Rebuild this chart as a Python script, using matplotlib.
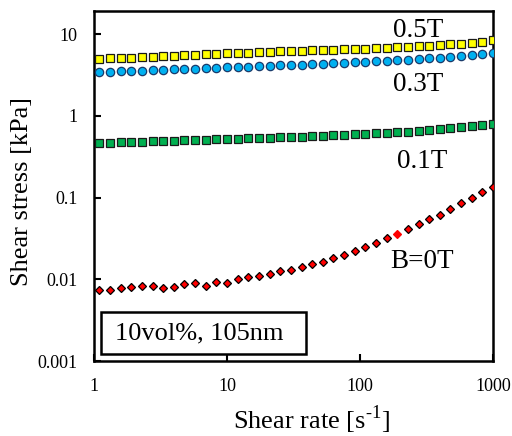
import matplotlib
matplotlib.use("Agg")
import matplotlib.pyplot as plt
from matplotlib.patches import Rectangle

plt.rcParams['font.family'] = ['Liberation Serif', 'DejaVu Serif']
plt.rcParams['mathtext.fontset'] = 'custom'
plt.rcParams['mathtext.rm'] = 'Liberation Serif'

# shear rate [1/s]
shear_rate = [1.096, 1.318, 1.585, 1.905, 2.291, 2.754, 3.311, 3.981, 4.786, 5.754,
              6.918, 8.318, 10.0, 12.02, 14.45, 17.38, 20.89, 25.12, 30.2, 36.31,
              43.65, 52.48, 63.1, 75.86, 91.2, 109.6, 131.8, 158.5, 190.5, 229.1,
              275.4, 331.1, 398.1, 478.6, 575.4, 691.8, 831.8, 1000.0]

# shear stress [kPa]
stress_05T = [5.03, 5.08, 5.12, 5.17, 5.22, 5.27, 5.37, 5.42, 5.52, 5.58,
              5.68, 5.74, 5.85, 5.90, 5.96, 6.07, 6.13, 6.18, 6.24, 6.30,
              6.36, 6.42, 6.48, 6.54, 6.60, 6.67, 6.73, 6.86, 6.92, 7.05,
              7.12, 7.26, 7.40, 7.54, 7.68, 7.90, 8.12, 8.44]
stress_03T = [3.45, 3.48, 3.52, 3.55, 3.58, 3.62, 3.65, 3.72, 3.75, 3.79,
              3.83, 3.90, 3.94, 3.97, 4.01, 4.05, 4.13, 4.17, 4.21, 4.25,
              4.33, 4.37, 4.41, 4.49, 4.53, 4.62, 4.66, 4.75, 4.80, 4.89,
              4.98, 5.08, 5.17, 5.27, 5.37, 5.52, 5.68, 5.84]
stress_01T = [0.470, 0.470, 0.474, 0.479, 0.483, 0.488, 0.493, 0.497, 0.502, 0.507,
              0.511, 0.516, 0.521, 0.526, 0.531, 0.536, 0.541, 0.546, 0.551, 0.557,
              0.567, 0.573, 0.578, 0.583, 0.594, 0.600, 0.612, 0.617, 0.629, 0.641,
              0.653, 0.665, 0.685, 0.704, 0.724, 0.745, 0.774, 0.803]
stress_0T = [0.0074, 0.0074, 0.0078, 0.0081, 0.0084, 0.0083, 0.0079, 0.0080, 0.0087, 0.0089,
             0.0084, 0.0094, 0.0091, 0.0102, 0.0106, 0.0110, 0.0116, 0.0125, 0.0130, 0.0140,
             0.0153, 0.0163, 0.0182, 0.0201, 0.0221, 0.0252, 0.0282, 0.0321, 0.0364, 0.0419,
             0.0473, 0.0545, 0.0622, 0.0722, 0.0849, 0.0995, 0.116, 0.135]
odd_point = 28  # one red marker drawn without outline

fig = plt.figure(figsize=(5.12, 4.36), dpi=100)
ax = fig.add_axes([0.1836, 0.172, 0.7794, 0.8028])

ms = 5.6
ax.plot(shear_rate, stress_05T, 's', ms=ms, mfc='#FFFF00', mec='#1a1a1a', mew=0.9, zorder=3)
ax.plot(shear_rate, stress_03T, 'o', ms=ms + 0.4, mfc='#00B0F0', mec='#1a3a6a', mew=0.9, zorder=3)
ax.plot(shear_rate, stress_01T, 's', ms=ms, mfc='#00B050', mec='#1a1a1a', mew=0.9, zorder=3)
rx = [x for i, x in enumerate(shear_rate) if i != odd_point]
ry = [y for i, y in enumerate(stress_0T) if i != odd_point]
ax.plot(rx, ry, 'D', ms=4.4, mfc='#FF0000', mec='#000000', mew=0.9, zorder=3)
ax.plot([shear_rate[odd_point]], [stress_0T[odd_point]], 'D', ms=4.4, mfc='#FF0000',
        mec='#FF0000', mew=0.9, zorder=3)

ax.set_xscale('log')
ax.set_yscale('log')
ax.set_xlim(1, 1000)
ax.set_ylim(0.001, 19.3)
ax.set_xticks([1, 10, 100, 1000])
ax.set_xticklabels(['1', '10', '100', '1000'])
ax.set_yticks([0.001, 0.01, 0.1, 1, 10])
ax.set_yticklabels(['0.001', '0.01', '0.1', '1', '10'])
ax.minorticks_off()
ax.tick_params(direction='in', length=5, width=1.5, labelsize=13, pad=12,
               top=False, right=False)
for s in ax.spines.values():
    s.set_linewidth(1.8)

ax.set_xlabel('Shear rate [s$^{\\mathregular{\u2010 1}}$]', fontsize=19)
ax.set_ylabel('Shear stress [kPa]', fontsize=19)
ax.xaxis.set_label_coords(0.544, -0.122)
ax.yaxis.set_label_coords(-0.153, 0.484)

ax.text(0.812, 0.943, '0.5T', transform=ax.transAxes, fontsize=19.5, ha='center', va='center')
ax.text(0.812, 0.790, '0.3T', transform=ax.transAxes, fontsize=19.5, ha='center', va='center')
ax.text(0.822, 0.569, '0.1T', transform=ax.transAxes, fontsize=19.5, ha='center', va='center')
ax.text(0.822, 0.283, 'B=0T', transform=ax.transAxes, fontsize=19.5, ha='center', va='center')

ax.add_patch(Rectangle((0.0175, 0.02), 0.5135, 0.12, transform=ax.transAxes,
                       facecolor='white', edgecolor='black', lw=1.8, zorder=4))
ax.text(0.264, 0.08, '10vol%, 105nm', transform=ax.transAxes, fontsize=19,
        ha='center', va='center', zorder=5)

fig.savefig('out.png', dpi=100)
